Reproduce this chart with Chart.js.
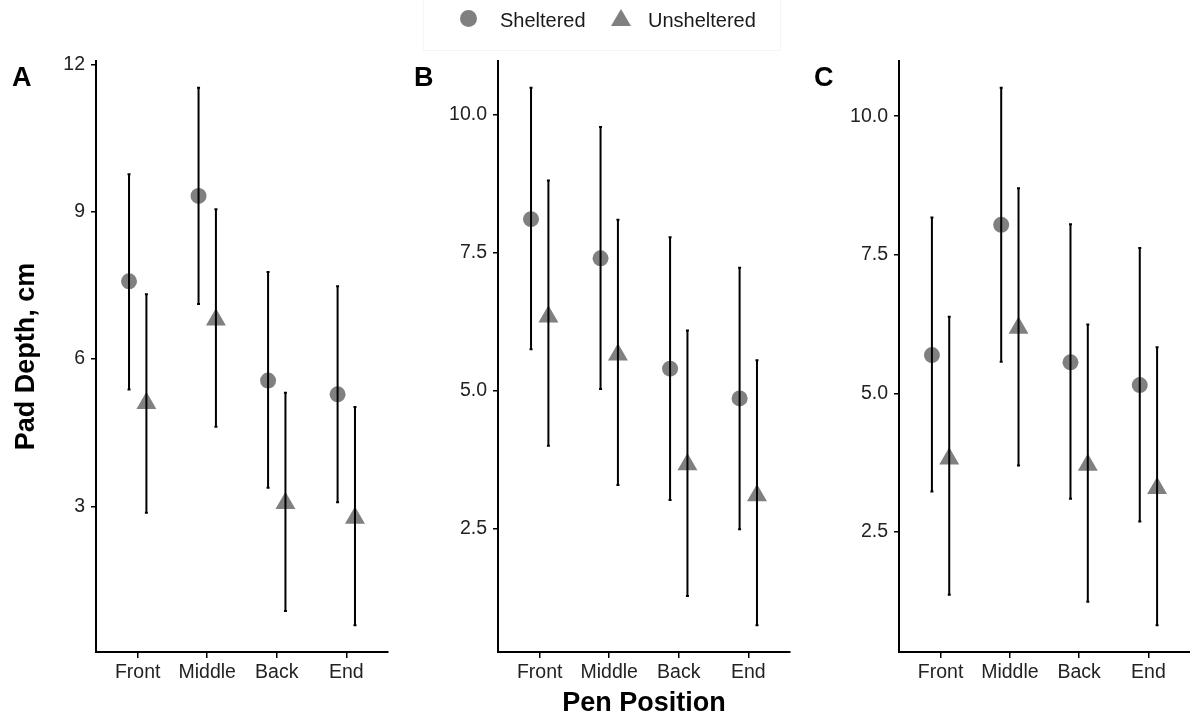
<!DOCTYPE html>
<html>
<head>
<meta charset="utf-8">
<title>Pad Depth by Pen Position</title>
<script src="https://cdn.jsdelivr.net/npm/chart.js@4/dist/chart.umd.min.js"></script>
<style>
  body { margin: 0; width: 1190px; height: 717px; background: #fff; position: relative; overflow: hidden;
         font-family: "Liberation Sans", Arial, sans-serif; }
  canvas.panel { position: absolute; top: 0; }
  .letter { position: absolute; top: 64px; font-size: 27px; line-height: 27px; font-weight: bold; color: #000; z-index: 2; }
  .legend-box { position: absolute; left: 423px; top: -2px; width: 356px; height: 51px; border: 1px solid #f5f5f5; z-index: 2; }
  .lg { position: absolute; z-index: 3; }
  .lg-circle { left: 460px; top: 10px; width: 17px; height: 17px; border-radius: 50%; background: #808080; }
  .lg-tri { left: 611px; top: 9px; width: 0; height: 0; border-left: 10.5px solid transparent;
            border-right: 10.5px solid transparent; border-bottom: 17px solid #808080; }
  .lg-text { top: 10px; font-size: 20px; line-height: 20px; color: #1a1a1a; }
</style>
</head>
<body>
<div class="legend-box"></div>
<div class="lg lg-circle"></div>
<div class="lg lg-text" style="left:500px">Sheltered</div>
<div class="lg lg-tri"></div>
<div class="lg lg-text" style="left:648px">Unsheltered</div>

<div class="letter" style="left:12px">A</div>
<div class="letter" style="left:414px">B</div>
<div class="letter" style="left:814px">C</div>

<canvas id="chartA" class="panel" width="396" height="720" style="left:0px"></canvas>
<canvas id="chartB" class="panel" width="396" height="720" style="left:397px"></canvas>
<canvas id="chartC" class="panel" width="396" height="720" style="left:794px"></canvas>

<script>
// categories
const positions = ['Front', 'Middle', 'Back', 'End'];

// Panel A
const aShelMean = [7.58, 9.32, 5.56, 5.28];
const aShelLo   = [5.38, 7.12, 3.38, 3.08];
const aShelHi   = [9.76, 11.52, 7.77, 7.48];
const aUnshMean = [5.10, 6.80, 3.06, 2.76];
const aUnshLo   = [2.87, 4.62, 0.87, 0.58];
const aUnshHi   = [7.32, 9.05, 5.31, 5.02];
const aTicks = [3, 6, 9, 12];

// Panel B
const bShelMean = [8.11, 7.40, 5.40, 4.86];
const bShelLo   = [5.75, 5.03, 3.02, 2.49];
const bShelHi   = [10.49, 9.78, 7.78, 7.23];
const bUnshMean = [6.34, 5.65, 3.66, 3.10];
const bUnshLo   = [4.00, 3.29, 1.28, 0.75];
const bUnshHi   = [8.81, 8.10, 6.09, 5.55];
const bTicks = [2.5, 5.0, 7.5, 10.0];

// Panel C
const cShelMean = [5.69, 8.04, 5.56, 5.15];
const cShelLo   = [3.23, 5.57, 3.10, 2.69];
const cShelHi   = [8.17, 10.51, 8.05, 7.62];
const cUnshMean = [3.82, 6.18, 3.71, 3.29];
const cUnshLo   = [1.37, 3.70, 1.24, 0.82];
const cUnshHi   = [6.38, 8.70, 6.24, 5.83];
const cTicks = [2.5, 5.0, 7.5, 10.0];

const POINT_COLOR = '#808080';
const TEXT_COLOR = '#222';
const DODGE = 0.125;
const FONT = '"Liberation Sans", Arial, sans-serif';

// vertical error bars, drawn over the points like the original
const errorBars = {
  id: 'errorBars',
  afterDatasetsDraw(chart) {
    const { ctx, scales: { x, y } } = chart;
    ctx.save();
    ctx.strokeStyle = '#000';
    ctx.lineWidth = 2;
    chart.data.datasets.forEach(ds => {
      ds.data.forEach(p => {
        const px = x.getPixelForValue(p.x);
        const top = y.getPixelForValue(p.hi);
        const bot = y.getPixelForValue(p.lo);
        ctx.beginPath();
        ctx.moveTo(px, top); ctx.lineTo(px, bot);
        ctx.moveTo(px - 1.5, top); ctx.lineTo(px + 1.5, top);
        ctx.moveTo(px - 1.5, bot); ctx.lineTo(px + 1.5, bot);
        ctx.stroke();
      });
    });
    ctx.restore();
  }
};

function toPoints(mean, lo, hi, shift) {
  return mean.map((m, i) => ({ x: i + 1 + shift, y: m, lo: lo[i], hi: hi[i] }));
}

function makePanel(id, d) {
  const allLo = Math.min(...d.shelLo, ...d.unshLo);
  const allHi = Math.max(...d.shelHi, ...d.unshHi);
  const pad = (allHi - allLo) * 0.05;

  return new Chart(document.getElementById(id), {
    type: 'scatter',
    data: {
      datasets: [
        {
          label: 'Sheltered',
          data: toPoints(d.shelMean, d.shelLo, d.shelHi, -DODGE),
          pointStyle: 'circle',
          pointRadius: 8,
          backgroundColor: POINT_COLOR,
          borderWidth: 0
        },
        {
          label: 'Unsheltered',
          data: toPoints(d.unshMean, d.unshLo, d.unshHi, DODGE),
          pointStyle: 'triangle',
          pointRadius: 11.5,
          backgroundColor: POINT_COLOR,
          borderWidth: 0
        }
      ]
    },
    options: {
      responsive: false,
      animation: false,
      devicePixelRatio: 1,
      layout: { autoPadding: false, padding: { top: 61, right: d.padRight, left: 0, bottom: 0 } },
      plugins: { legend: { display: false }, tooltip: { enabled: false } },
      scales: {
        x: {
          type: 'linear',
          min: 0.4,
          max: 4.6,
          afterFit: s => { s.height = 68; s.paddingLeft = 0; s.paddingRight = 0; },
          afterBuildTicks: s => { s.ticks = positions.map((p, i) => ({ value: i + 1 })); },
          grid: { display: true, drawOnChartArea: false, drawTicks: true, tickLength: 6, color: '#000', lineWidth: 1.5 },
          border: { display: true, color: '#000', width: 2 },
          ticks: {
            color: TEXT_COLOR,
            padding: 3,
            font: { family: FONT, size: 19.5 },
            callback: v => positions[Math.round(v) - 1]
          },
          title: {
            display: !!d.xTitle,
            text: d.xTitle || '',
            color: '#000',
            padding: { top: 0, bottom: 0 },
            font: { family: FONT, size: 27, weight: 'bold' }
          }
        },
        y: {
          type: 'linear',
          min: allLo - pad,
          max: allHi + pad,
          afterFit: s => { s.width = d.yWidth; s.paddingTop = 0; s.paddingBottom = 0; },
          afterBuildTicks: s => { s.ticks = d.ticks.map(v => ({ value: v })); },
          grid: { display: true, drawOnChartArea: false, drawTicks: true, tickLength: 5, color: '#000', lineWidth: 1.5 },
          border: { display: true, color: '#000', width: 2 },
          ticks: {
            color: TEXT_COLOR,
            padding: 6,
            font: { family: FONT, size: 19.5 },
            callback: v => d.decimals ? v.toFixed(1) : String(v)
          },
          title: {
            display: !!d.yTitle,
            text: d.yTitle || '',
            color: '#000',
            padding: { top: 10, bottom: 0 },
            font: { family: FONT, size: 27, weight: 'bold' }
          }
        }
      }
    },
    plugins: [errorBars]
  });
}

makePanel('chartA', {
  shelMean: aShelMean, shelLo: aShelLo, shelHi: aShelHi,
  unshMean: aUnshMean, unshLo: aUnshLo, unshHi: aUnshHi,
  ticks: aTicks, decimals: false, yWidth: 96, padRight: 8,
  yTitle: 'Pad Depth, cm'
});

makePanel('chartB', {
  shelMean: bShelMean, shelLo: bShelLo, shelHi: bShelHi,
  unshMean: bUnshMean, unshLo: bUnshLo, unshHi: bUnshHi,
  ticks: bTicks, decimals: true, yWidth: 101, padRight: 3,
  xTitle: 'Pen Position'
});

makePanel('chartC', {
  shelMean: cShelMean, shelLo: cShelLo, shelHi: cShelHi,
  unshMean: cUnshMean, unshLo: cUnshLo, unshHi: cUnshHi,
  ticks: cTicks, decimals: true, yWidth: 105, padRight: 0
});
</script>
</body>
</html>
